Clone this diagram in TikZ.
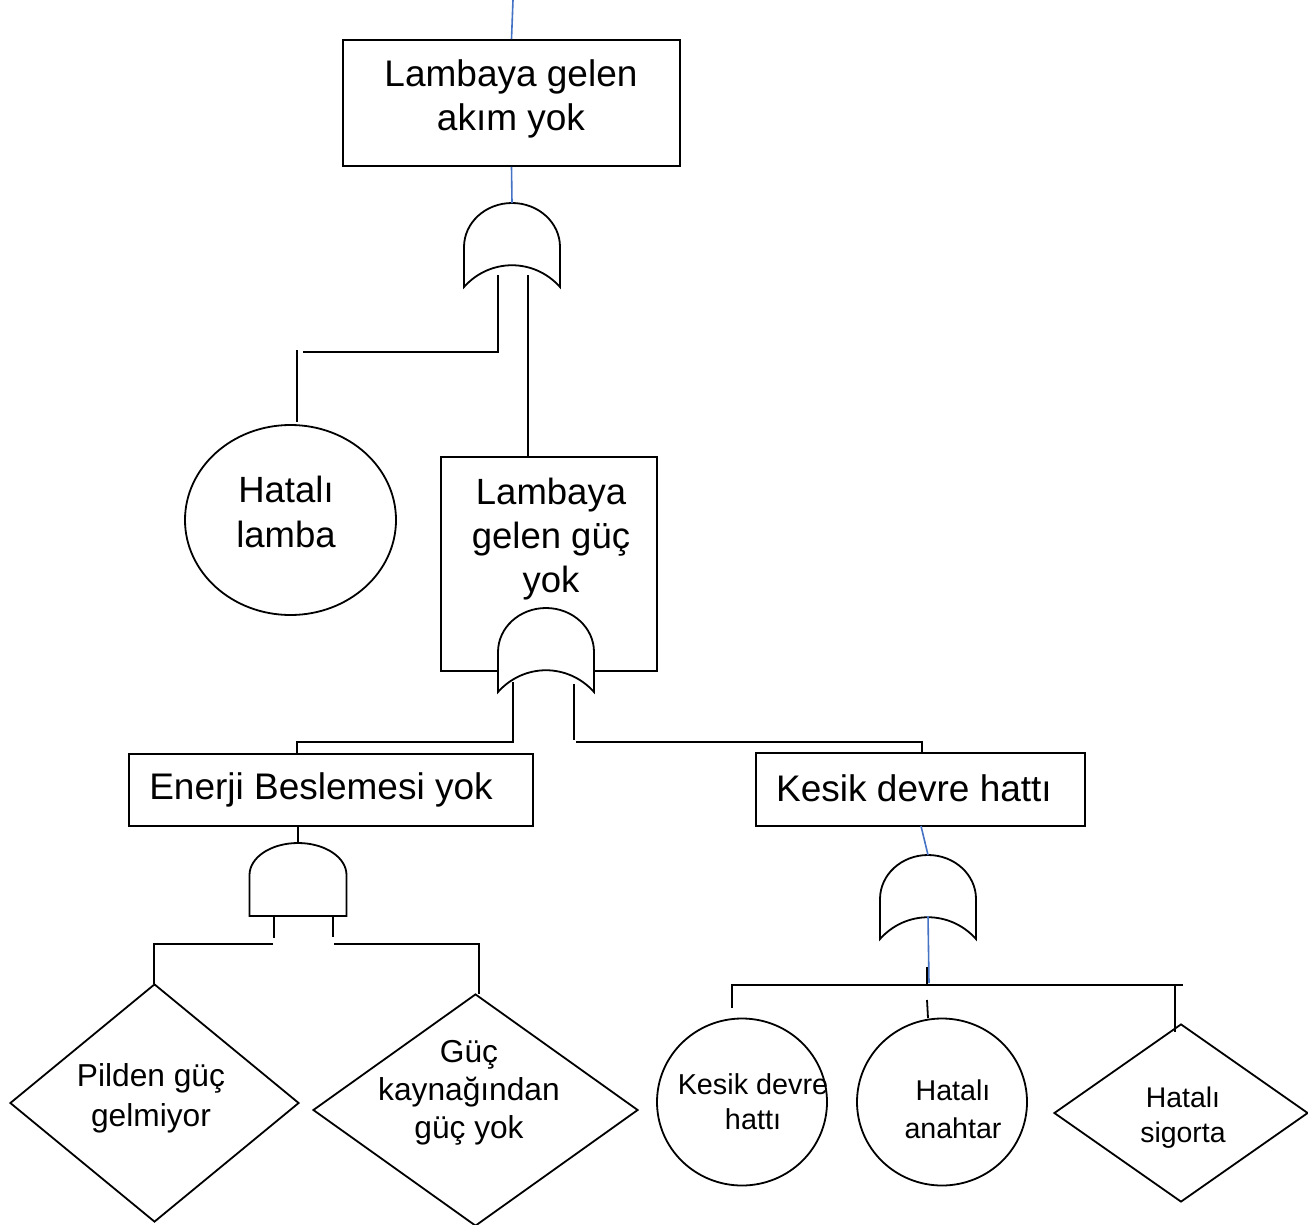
\documentclass[tikz,border=0pt]{standalone}
\usepackage{fontspec}
\setmainfont{Liberation Sans}
\usetikzlibrary{shapes.geometric}
\definecolor{lnblue}{RGB}{68,114,196}
\newcommand\setfs[2]{\fontsize{#1}{#2}\selectfont}
\tikzset{
  ln/.style={line width=1.8pt, black},
  blueln/.style={line width=1.6pt, lnblue},
  boxnode/.style={draw, ln, rectangle, inner sep=0pt},
  ellnode/.style={draw, ln, ellipse, inner sep=0pt},
  dianode/.style={draw, ln, diamond, inner sep=0pt},
  txt/.style={align=center, inner sep=0pt},
  gate/.style={ln, fill=white, line join=miter},
  orgate/.pic={
    \fill[white] (-47,62) rectangle (47,78);
    \draw[gate] (-48,44) .. controls (-48,19.7) and (-26.5,0) .. (0,0)
      .. controls (26.5,0) and (48,19.7) .. (48,44) -- (48,84)
      .. controls (22,55) and (-22,55) .. (-48,84) -- cycle;
    \coordinate (-top) at (0,0);
    \coordinate (-apex) at (0,61);
  },
  andgate/.pic={
    \draw[gate] (-48.5,73) -- (-48.5,32) .. controls (-48.5,14.3) and (-26.8,0) .. (0,0)
      .. controls (26.8,0) and (48.5,14.3) .. (48.5,32) -- (48.5,73) -- cycle;
    \coordinate (-top) at (0,0);
  }
}
\begin{document}
\begin{tikzpicture}[x=1pt,y=-1pt]
\useasboundingbox (0,0) rectangle (1308,1225);
\fill[white] (0,0) rectangle (1308,1225);

% ---- shapes ----
\node[boxnode, minimum width=337, minimum height=126] (top) at (511.5,103) {};
\node[ellnode, minimum width=211, minimum height=190] (lamba) at (290.5,520) {};
\node[boxnode, minimum width=216, minimum height=214] (guc) at (549,564) {};
\node[boxnode, minimum width=404, minimum height=72] (enerji) at (331,790) {};
\node[boxnode, minimum width=329, minimum height=73] (kesik) at (920.5,789.5) {};
\node[dianode, minimum width=289, minimum height=238] (pil) at (154.5,1103) {};
\node[dianode, minimum width=325, minimum height=232] (kaynak) at (475.5,1110) {};
\node[ellnode, minimum width=170, minimum height=167] (hat) at (742,1102) {};
\node[ellnode, minimum width=170, minimum height=167] (anahtar) at (942,1102) {};
\node[dianode, minimum width=254, minimum height=178] (sigorta) at (1181,1113) {};

% ---- gates ----
\pic (g1) at (512,203) {orgate};
\pic (g2) at (546,608) {orgate};
\pic (g3) at (928,855) {orgate};
\pic (g4) at (298,843) {andgate};

% ---- connectors ----
\coordinate (topend) at (513,0);
\draw[blueln] (topend) -- (top.north);
\draw[blueln] (top.south) -- (g1-top);
\draw[ln] (498,275) |- (303,352);
\draw[ln] (297,350) -- (297,422);
\draw[ln] (528,275) -- (528,457);

\draw[ln] (513,682) |- (297,742) -- (297,754);
\draw[ln] (574,684) -- (574,740);
\draw[ln] (576,742) -| (922,754);

\draw[ln] (298,826) -- (g4-top);
\draw[ln] (274,916) -- (274,938);
\draw[ln] (333,916) -- (333,937);
\draw[ln] (273,944) -| (154,984);
\draw[ln] (334,944) -| (479,994);

\draw[blueln] (921,826) -- (g3-top);
\draw[blueln] (g3-apex) -- (929,983);
\draw[ln] (927,967) -- (927,985);
\draw[ln] (927,1000) -- (928,1018);
\draw[ln] (732,1008) |- (1183,985);
\draw[ln] (1175,985) -- (1175,1032);

% ---- texts ----
\node[txt, font=\setfs{37}{44}] (top-t) at (511,99) {Lambaya gelen\\akım yok};
\node[txt, font=\setfs{36.5}{45}] (lamba-t) at (286,512) {Hatalı\\lamba};
\node[txt, font=\setfs{36.5}{44}] (guc-t) at (551,539) {Lambaya\\gelen güç\\yok};
\node[txt, font=\setfs{37}{44}] (enerji-t) at (321,790) {Enerji Beslemesi yok};
\node[txt, font=\setfs{37}{44}] (kesik-t) at (914,788) {Kesik devre hattı};
\node[txt, font=\setfs{31.7}{40}] (pil-t) at (151,1098) {Pilden güç\\gelmiyor};
\node[txt, font=\setfs{31.7}{38}] (kaynak-t) at (469,1093) {Güç\\kaynağından\\güç yok};
\node[txt, font=\setfs{28.8}{35}] (hat-t) at (753,1102) {Kesik devre\\hattı};
\node[txt, font=\setfs{28.6}{38}] (anahtar-t) at (953,1109) {Hatalı\\anahtar};
\node[txt, font=\setfs{28.4}{35}] (sigorta-t) at (1183,1118) {Hatalı\\sigorta};
\end{tikzpicture}
\end{document}
